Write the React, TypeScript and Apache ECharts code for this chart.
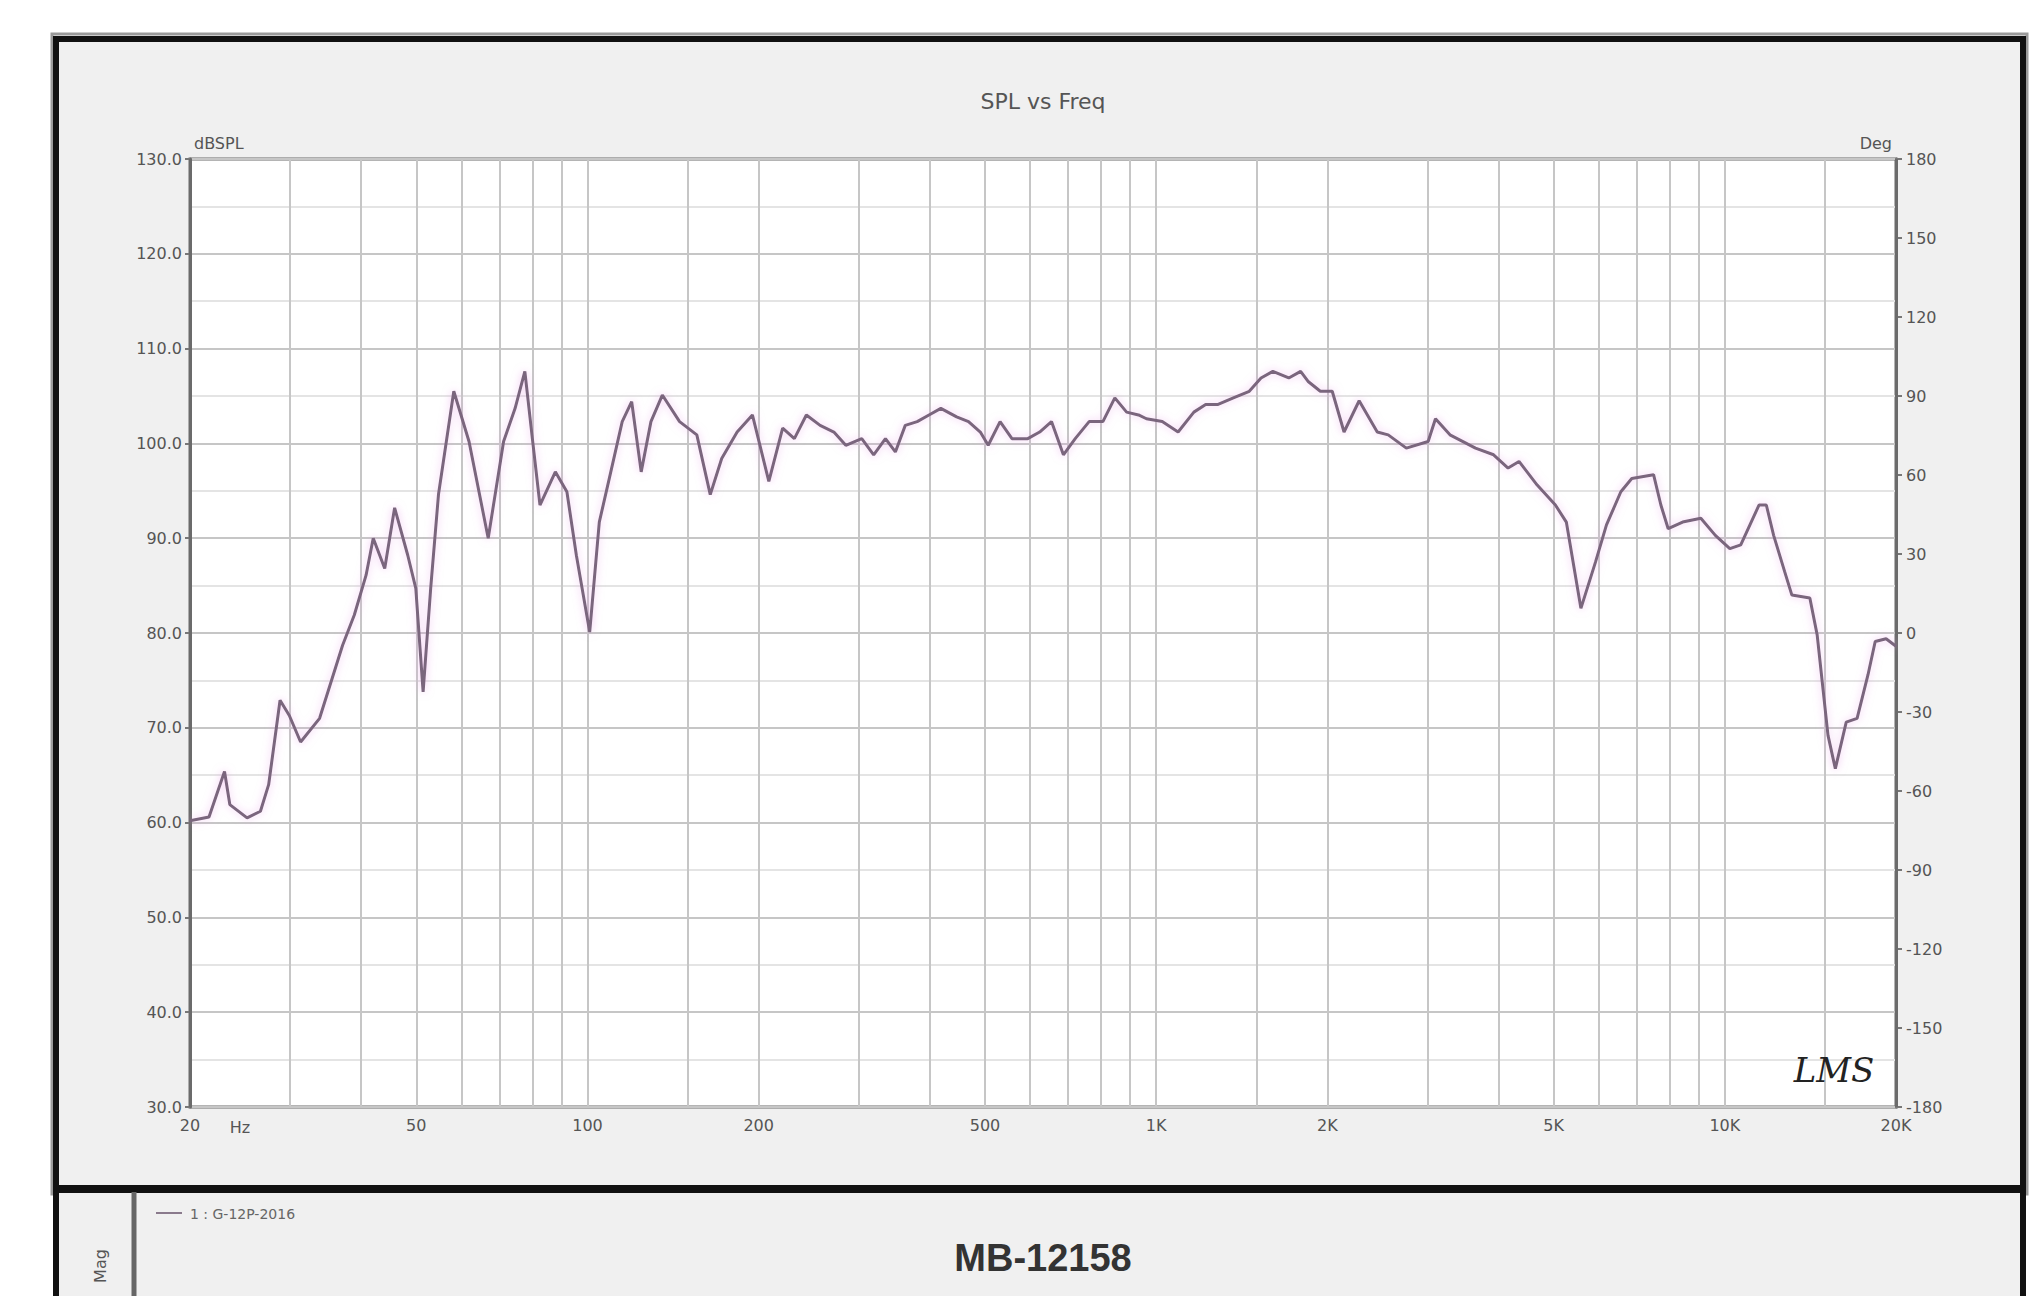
import React, { useEffect, useRef } from 'react';
import * as echarts from 'echarts';

// ---- data ----
const freqs = [
  20, 21.6, 23.0, 23.5, 25.2, 26.6, 27.5, 28.8, 29.9, 31.3, 33.8, 37.1, 38.9, 40.8, 42.0, 44.0, 45.8, 48.3, 49.9,
  51.4, 53.0, 54.7, 58.2, 61.9, 66.9, 71.2, 74.6, 77.6, 80.0, 82.5, 87.8, 92.0, 95.6, 100.9, 104.9, 109.9, 115.1,
  119.6, 124.3, 129.3, 135.4, 145.2, 155.7, 164.4, 172.2, 183.3, 195, 208.4, 220.4, 231.1, 242.6, 256.5, 271.2,
  284.6, 303.6, 318.6, 334.2, 347.9, 362.1, 380, 398.6, 418.2, 445.8, 467.8, 490.7, 506.6, 531.6, 557.8, 594.6,
  624, 654.6, 686.9, 720.6, 762.3, 806, 845.9, 887.3, 931.1, 961.4, 1025, 1093, 1165, 1222, 1282, 1367, 1458,
  1529, 1604, 1711, 1795, 1853, 1944, 2040, 2140, 2275, 2448, 2559, 2754, 3008, 3099, 3286, 3644, 3921, 4158,
  4346, 4678, 5036, 5264, 5584, 5925, 6193, 6564, 6861, 7494, 7719, 7951, 8430, 9075, 9624, 10205, 10667, 11484,
  11830, 12186, 12738, 13120, 14110, 14534, 15187, 15644, 16350, 17085, 17857, 18385, 19213, 20000,
];
const splDb = [
  60.2, 60.6, 65.4, 61.9, 60.5, 61.2, 64.0, 72.9, 71.3, 68.5, 71.0, 78.7, 81.9, 86.1, 90.0, 86.8, 93.2, 88.2, 84.7,
  73.8, 84.7, 94.6, 105.5, 100.2, 90.0, 100.2, 103.7, 107.6, 100.5, 93.5, 97.0, 94.9, 88.2, 80.1, 91.7, 97.0, 102.3,
  104.4, 97.0, 102.3, 105.1, 102.3, 100.9, 94.6, 98.4, 101.2, 103.0, 96.0, 101.6, 100.5, 103.0, 101.9, 101.2,
  99.8, 100.5, 98.8, 100.5, 99.1, 101.9, 102.3, 103.0, 103.7, 102.8, 102.3, 101.2, 99.8, 102.3, 100.5, 100.5,
  101.2, 102.3, 98.8, 100.5, 102.3, 102.3, 104.8, 103.3, 103.0, 102.6, 102.3, 101.2, 103.3, 104.1, 104.1, 104.8, 105.5,
  106.9, 107.6, 106.9, 107.6, 106.5, 105.5, 105.5, 101.2, 104.5, 101.2, 100.9, 99.5, 100.2, 102.6, 100.9, 99.5, 98.8, 97.4,
  98.1, 95.6, 93.5, 91.7, 82.6, 87.5, 91.4, 94.9, 96.3, 96.7, 93.5, 91.0, 91.7, 92.1, 90.3, 88.9, 89.3, 93.5,
  93.5, 90.3, 86.5, 84.0, 83.7, 79.8, 69.2, 65.7, 70.6, 71.0, 75.6, 79.1, 79.4, 78.6,
];

const xLabelFreqs = [20, 50, 100, 200, 500, 1000, 2000, 5000, 10000, 20000];
const xLabelTexts = ['20', '50', '100', '200', '500', '1K', '2K', '5K', '10K', '20K'];
const xGridFreqs = [30, 40, 60, 70, 80, 90, 150, 300, 400, 600, 700, 800, 900, 1500, 3000, 4000, 6000, 7000, 8000, 9000, 15000];

const splMin = 30;
const splMax = 130;
const splStep = 10;
const phaseMin = -180;
const phaseMax = 180;
const phaseStep = 30;

const titleText = 'SPL vs Freq';
const leftUnit = 'dBSPL';
const rightUnit = 'Deg';
const modelName = 'MB-12158';
const legendText = '1 : G-12P-2016';

export default function App() {
  const ref = useRef<HTMLDivElement>(null);

  useEffect(() => {
    if (!ref.current) return;
    const chart = echarts.init(ref.current, undefined, { renderer: 'svg' });

    const gridLineColor = '#c6c6c6';
    const borderColor = '#6b6b6b';
    const labelColor = '#555';
    const font = 'DejaVu Sans';

    const markData: any[] = [];
    xGridFreqs.forEach((f) => {
      markData.push({ xAxis: f, label: { show: false } });
    });
    xLabelFreqs.forEach((f, i) => {
      const edge = f === xLabelFreqs[0] || f === xLabelFreqs[xLabelFreqs.length - 1];
      markData.push({
        xAxis: f,
        label: { show: true, formatter: xLabelTexts[i] },
        lineStyle: edge ? { color: borderColor, width: 3, type: 'solid' } : undefined,
      });
    });

    const option: any = {
      animation: false,
      backgroundColor: '#ffffff',
      grid: {
        left: 190,
        right: 2031 - 1896,
        top: 159,
        bottom: 1296 - 1107,
        show: true,
        backgroundColor: '#ffffff',
        borderColor: borderColor,
        borderWidth: 3,
      },
      xAxis: {
        type: 'log',
        logBase: 10,
        min: 20,
        max: 20000,
        axisLine: { show: false },
        axisTick: { show: false },
        axisLabel: { show: false },
        splitLine: { show: false },
      },
      yAxis: [
        {
          type: 'value',
          min: splMin,
          max: splMax,
          interval: splStep,
          position: 'left',
          axisLine: { show: true, lineStyle: { color: borderColor, width: 3 } },
          axisTick: { show: true, length: 5, lineStyle: { color: '#777', width: 2 } },
          axisLabel: {
            color: labelColor,
            fontSize: 16,
            fontFamily: font,
            margin: 8,
            formatter: (v: number) => v.toFixed(1),
          },
          splitLine: { show: true, lineStyle: { color: gridLineColor, width: 2 } },
          minorTick: { show: false, splitNumber: 2 },
          minorSplitLine: { show: true, lineStyle: { color: '#e4e4e4', width: 2 } },
        },
        {
          type: 'value',
          min: phaseMin,
          max: phaseMax,
          interval: phaseStep,
          position: 'right',
          axisLine: { show: true, lineStyle: { color: borderColor, width: 3 } },
          axisTick: { show: true, length: 6, lineStyle: { color: '#777', width: 2 } },
          axisLabel: {
            color: labelColor,
            fontSize: 16,
            fontFamily: font,
            margin: 10,
            formatter: (v: number) => String(v),
          },
          splitLine: { show: false },
        },
      ],
      series: [
        {
          type: 'line',
          name: 'grid',
          data: [],
          silent: true,
          xAxisIndex: 0,
          yAxisIndex: 0,
          markLine: {
            silent: true,
            symbol: 'none',
            z: 1,
            animation: false,
            lineStyle: { color: gridLineColor, width: 2, type: 'solid' },
            label: {
              show: false,
              position: 'start',
              distance: 10,
              color: labelColor,
              fontSize: 16,
              fontFamily: font,
            },
            emphasis: { disabled: true },
            data: markData,
          },
        },
        {
          type: 'line',
          name: 'SPL',
          z: 3,
          xAxisIndex: 0,
          yAxisIndex: 0,
          showSymbol: false,
          symbol: 'none',
          data: freqs.map((f, i) => [f, splDb[i]]),
          lineStyle: {
            color: '#7a667d',
            width: 3,
            shadowColor: 'rgba(230,150,230,0.55)',
            shadowBlur: 8,
          },
        },
      ],
      graphic: [
        {
          type: 'rect',
          z: -10,
          shape: { x: 52, y: 34, width: 1975, height: 1160 },
          style: { fill: 'none', stroke: '#9a9a9a', lineWidth: 3 },
        },
        {
          type: 'rect',
          z: -9,
          shape: { x: 56, y: 39, width: 1967, height: 1149 },
          style: { fill: '#f0f0f0', stroke: '#111', lineWidth: 6 },
        },
        {
          type: 'rect',
          z: -9,
          shape: { x: 56, y: 1190, width: 1967, height: 200 },
          style: { fill: '#f0f0f0', stroke: '#111', lineWidth: 6 },
        },
        {
          type: 'line',
          z: -8,
          shape: { x1: 134, y1: 1192, x2: 134, y2: 1300 },
          style: { stroke: '#666', lineWidth: 5 },
        },
        {
          type: 'text',
          x: 1043,
          y: 101,
          style: { text: titleText, fill: '#555', fontSize: 22, fontFamily: font, align: 'center', verticalAlign: 'middle' },
        },
        {
          type: 'text',
          x: 194,
          y: 143,
          style: { text: leftUnit, fill: '#555', fontSize: 16, fontFamily: font, align: 'left', verticalAlign: 'middle' },
        },
        {
          type: 'text',
          x: 1892,
          y: 143,
          style: { text: rightUnit, fill: '#555', fontSize: 16, fontFamily: font, align: 'right', verticalAlign: 'middle' },
        },
        {
          type: 'text',
          x: 240,
          y: 1127,
          style: { text: 'Hz', fill: labelColor, fontSize: 16, fontFamily: font, align: 'center', verticalAlign: 'middle' },
        },
        {
          type: 'text',
          x: 1834,
          y: 1070,
          z: 10,
          style: {
            text: 'LMS',
            fill: '#222',
            fontSize: 34,
            fontStyle: 'italic',
            fontFamily: 'DejaVu Serif',
            align: 'center',
            verticalAlign: 'middle',
          },
        },
        {
          type: 'line',
          shape: { x1: 156, y1: 1213, x2: 182, y2: 1213 },
          style: { stroke: '#8a7a8c', lineWidth: 2 },
        },
        {
          type: 'text',
          x: 190,
          y: 1214,
          style: { text: legendText, fill: '#666', fontSize: 14, fontFamily: font, align: 'left', verticalAlign: 'middle' },
        },
        {
          type: 'text',
          x: 1043,
          y: 1258,
          style: {
            text: modelName,
            fill: '#333',
            fontSize: 38,
            fontWeight: 'bold',
            fontFamily: 'Liberation Sans',
            align: 'center',
            verticalAlign: 'middle',
          },
        },
        {
          type: 'text',
          x: 100,
          y: 1266,
          rotation: Math.PI / 2,
          style: { text: 'Mag', fill: '#555', fontSize: 16, fontFamily: font, align: 'center', verticalAlign: 'middle' },
        },
      ],
    };

    chart.setOption(option);
    return () => {
      chart.dispose();
    };
  }, []);

  return (
    <div
      ref={ref}
      style={{ position: 'fixed', left: 0, top: 0, width: 2031, height: 1296 }}
    />
  );
}
